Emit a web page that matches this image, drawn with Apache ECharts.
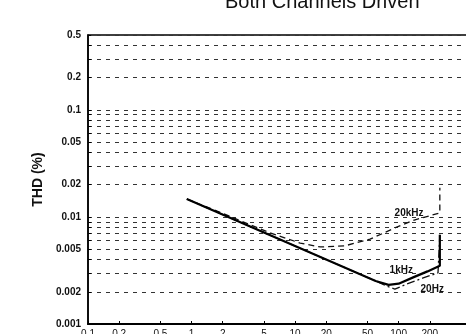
<!DOCTYPE html>
<html>
<head>
<meta charset="utf-8">
<script src="https://cdn.jsdelivr.net/npm/echarts@6/dist/echarts.min.js"></script>
<style>html,body{margin:0;padding:0;background:#fff}#c{width:466px;height:334px}</style>
</head>
<body>
<div id="c"></div>
<script>
// Output power (W) vs THD (%)
const xTickLabels = [0.1, 0.2, 0.5, 1, 2, 5, 10, 20, 50, 100, 200];
const yTickLabels = [0.001, 0.002, 0.005, 0.01, 0.02, 0.05, 0.1, 0.2, 0.5];
const yGridValues = [0.002, 0.003, 0.004, 0.005, 0.006, 0.007, 0.008, 0.009,
                     0.01, 0.02, 0.03, 0.04, 0.05, 0.06, 0.07, 0.08, 0.09,
                     0.1, 0.2, 0.3, 0.4, 0.5];
const series1kHz = [[0.9, 0.0147], [60, 0.00252], [80, 0.00232], [100, 0.00238],
                    [140, 0.00274], [190, 0.0031], [250, 0.0035], [250, 0.0068]];
const series20Hz = [[0.9, 0.0147], [60, 0.00252], [75, 0.00228], [92, 0.00212],
                    [120, 0.00236], [170, 0.00268], [240, 0.003], [250, 0.0031], [250, 0.0068]];
const series20kHz = [[0.9, 0.0147], [2.36, 0.0101], [5.7, 0.0071], [11.2, 0.0057],
                     [17.5, 0.00524], [30, 0.00536], [53, 0.0062], [92, 0.0079],
                     [144, 0.0094], [250, 0.0109], [250, 0.0187]];
const curveNames = ['20kHz', '1kHz', '20Hz'];
const curveLabelAt = [[126, 0.0109], [106, 0.0032], [211, 0.00212]];

const fmt = v => String(parseFloat(Number(v).toPrecision(6)));
const chart = echarts.init(document.getElementById('c'), null, {renderer: 'canvas'});
function lbl(i) {
  return {
    symbol: 'rect', symbolSize: 0,
    label: {show: true, position: 'inside', formatter: curveNames[i], color: '#111',
            fontSize: 10, fontWeight: 'bold', fontFamily: 'Liberation Sans'},
    data: [{coord: curveLabelAt[i]}]
  };
}
chart.setOption({
  animation: false,
  backgroundColor: '#fff',
  title: {
    text: 'Both Channels Driven', left: 220, top: -13,
    textStyle: {fontSize: 20, fontWeight: 'normal', color: '#111', fontFamily: 'Liberation Sans'}
  },
  grid: {left: 88, top: 35, right: -5, bottom: 10, outerBoundsMode: 'none', containLabel: false,
         show: true, borderColor: '#000', borderWidth: 1.5},
  xAxis: {
    type: 'log', logBase: 10, min: 0.1, max: 500,
    axisLine: {lineStyle: {color: '#000', width: 2}},
    axisTick: {show: true, inside: true, length: 3, customValues: xTickLabels, lineStyle: {color: '#000'}},
    axisLabel: {customValues: xTickLabels, formatter: fmt, margin: 5, fontSize: 10,
                color: '#111', fontFamily: 'Liberation Sans'},
    splitLine: {show: false}, minorTick: {show: false}
  },
  yAxis: {
    type: 'log', logBase: 10, min: 0.001, max: 0.5,
    name: 'THD (%)', nameLocation: 'middle', nameGap: 40,
    nameTextStyle: {fontSize: 14, fontWeight: 'bold', color: '#111', fontFamily: 'Liberation Sans'},
    axisLine: {lineStyle: {color: '#000', width: 1.5}},
    axisTick: {show: true, inside: true, length: 3, customValues: yGridValues, lineStyle: {color: '#000'}},
    axisLabel: {customValues: yTickLabels, formatter: fmt, margin: 7, fontSize: 10, fontWeight: 'bold',
                color: '#111', fontFamily: 'Liberation Sans'},
    splitLine: {show: true, lineStyle: {color: '#333', width: 1, type: [4, 5]}}
  },
  series: [
    {name: '20kHz', type: 'line', data: series20kHz, showSymbol: false, symbol: 'none',
     lineStyle: {color: '#111', width: 1.3, type: [6, 4]}, markPoint: lbl(0), z: 3},
    {name: '1kHz', type: 'line', data: series1kHz, showSymbol: false, symbol: 'none',
     lineStyle: {color: '#000', width: 2.2}, markPoint: lbl(1), z: 4},
    {name: '20Hz', type: 'line', data: series20Hz, showSymbol: false, symbol: 'none',
     lineStyle: {color: '#111', width: 1.3, type: [8, 3, 2, 3]}, markPoint: lbl(2), z: 3}
  ]
});
</script>
</body>
</html>
